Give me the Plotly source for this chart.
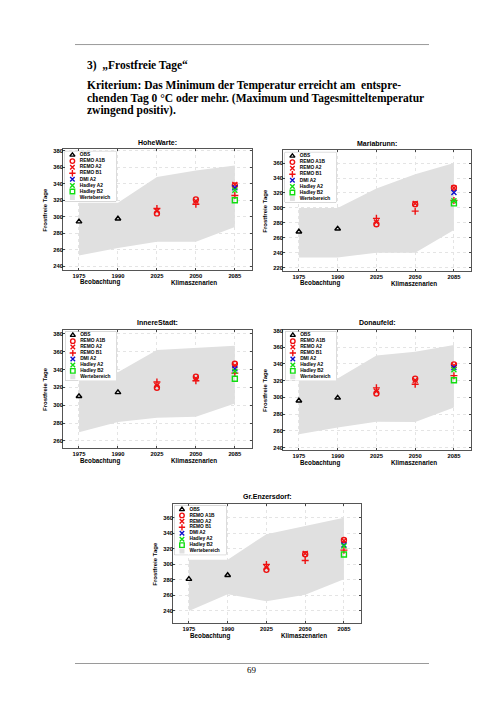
import plotly.graph_objects as go

# Seite 504x713; der Browser setzt 8px Rand um die Grafik
PAGE_W, PAGE_H = 504, 713
OFF = 8
W, H = PAGE_W - OFF, PAGE_H - OFF

# Daten: Frostfreie Tage je Station
stations = ["HoheWarte:", "Mariabrunn:", "InnereStadt:", "Donaufeld:", "Gr.Enzersdorf:"]
years = ["1975", "1990", "2025", "2050", "2085"]

obs = [[294, 297.5], [268, 272], [310, 314.4], [296, 299.5], [281, 286]]
band_upper = [
    [317, 317, 348, 356, 362],
    [300, 300, 326, 345, 360],
    [337, 337, 362, 364, 366.6],
    [322.5, 322.5, 350, 354.6, 362.5],
    [306, 306, 339, 349.6, 360],
]
band_lower = [
    [253, 262, 269.5, 269.5, 287.5],
    [233.5, 233.5, 240, 240, 270.5],
    [269.7, 281, 286, 287, 302],
    [256, 264, 271, 270.5, 288],
    [240, 261.6, 252.5, 261, 281],
]
# Szenarien 2025, 2050, 2085
remo_a1b = [[304, 321, 338], [278, 305, 327], [319.6, 332, 346.5], [304.6, 322.5, 339.5], [293, 313, 331.4]]
remo_a2 = [[307, 319, 339], [281, 306, 326.5], [322, 330, 344.6], [307.4, 320.5, 338], [296, 314, 330.5]]
remo_b1 = [[310, 315, 325.7], [286, 295.6, 310], [326, 327.5, 336], [311.4, 315.7, 326], [300, 305, 318.4]]
# nur 2085
dmi_a2 = [335, 320.6, 341, 335.6, 325]
hadley_a2 = [332, 309.5, 338, 333, 323.6]
hadley_b2 = [320, 306, 329.7, 320.5, 312.8]

y_ranges = [[235.5, 381.6], [215.6, 377], [251.8, 384.8], [237, 381], [224, 378]]
y_ticks = [
    list(range(240, 381, 20)),
    list(range(220, 361, 20)),
    list(range(260, 381, 20)),
    list(range(240, 381, 20)),
    list(range(240, 361, 20)),
]

legend_labels = ["OBS", "REMO A1B", "REMO A2", "REMO B1", "DMI A2", "Hadley A2", "Hadley B2", "Wertebereich"]

# Achsenboxen in Seitenpixeln (links, oben, rechts, unten)
boxes = [(63, 148, 252, 269), (283, 149, 471, 270), (63, 329, 252, 448),
         (283, 329, 471, 450), (173, 504, 361, 624)]
leg_boxes = [(65, 150, 116, 200), (285, 151, 336, 201), (65.5, 331, 116, 380),
             (285.5, 331, 336, 380), (174.5, 506, 226, 555)]

RED = "#ee1111"
GREEN = "#11dd11"
BLUE = "#1111cc"
BAND = "#e0e0e0"
styles = [
    dict(symbol="triangle-up-open", color="black"),
    dict(symbol="circle-open", color=RED),
    dict(symbol="x-thin", color=RED),
    dict(symbol="cross-thin", color=RED),
    dict(symbol="x-thin", color=BLUE),
    dict(symbol="x-thin", color=GREEN),
    dict(symbol="square-open", color=GREEN),
]

FONT = "Liberation Sans"
SERIF = "Liberation Serif"


def px_x(v):
    return (v - OFF) / W


def px_y(v):
    return 1 - (v - OFF) / H


def mk(st, size=5):
    return dict(symbol=st["symbol"], size=size, color=st["color"],
                line=dict(color=st["color"], width=1.4))


fig = go.Figure()
annotations = []
shapes = []
layout = {}

for i in range(5):
    n = i + 1
    xa = "x" if n == 1 else f"x{n}"
    ya = "y" if n == 1 else f"y{n}"
    l, t, r, b = boxes[i]
    layout[f"xaxis{n}"] = dict(
        domain=[px_x(l), px_x(r)], anchor=ya, range=[0.59, 5.44],
        tickvals=[1, 2, 3, 4, 5], ticktext=years,
        ticks="inside", ticklen=2, tickcolor="#444",
        showline=True, linecolor="#555", linewidth=0.8, mirror="ticks",
        showgrid=True, gridcolor="#e4e4e4", griddash="dot", gridwidth=0.5,
        zeroline=False, tickfont=dict(family=FONT, size=5.8, color="black", weight="bold"),
    )
    layout[f"yaxis{n}"] = dict(
        domain=[px_y(b), px_y(t)], anchor=xa, range=y_ranges[i],
        tickvals=y_ticks[i], ticks="inside", ticklen=2, tickcolor="#444",
        showline=True, linecolor="#555", linewidth=0.8, mirror="ticks",
        showgrid=True, gridcolor="#e4e4e4", griddash="dot", gridwidth=0.5,
        zeroline=False, ticklabelstandoff=-2,
        tickfont=dict(family=FONT, size=5.8, color="black", weight="bold"),
    )

    # Wertebereich
    fig.add_trace(go.Scatter(
        x=[1, 2, 3, 4, 5, 5, 4, 3, 2, 1],
        y=band_upper[i] + band_lower[i][::-1],
        fill="toself", fillcolor=BAND, line=dict(width=0), mode="lines",
        hoverinfo="skip", showlegend=False, xaxis=xa, yaxis=ya,
    ))
    series = [
        ([1, 2], obs[i]),
        ([3, 4, 5], remo_a1b[i]),
        ([3, 4, 5], remo_a2[i]),
        ([3, 4, 5], remo_b1[i]),
        ([5], [dmi_a2[i]]),
        ([5], [hadley_a2[i]]),
        ([5], [hadley_b2[i]]),
    ]
    for k, (xs, ys) in enumerate(series):
        fig.add_trace(go.Scatter(
            x=xs, y=ys, mode="markers", marker=mk(styles[k]),
            name=legend_labels[k], showlegend=False, xaxis=xa, yaxis=ya,
        ))

    # Titel, Achsenbeschriftungen
    annotations.append(dict(
        text=stations[i], xref=f"{xa} domain", yref=f"{ya} domain", x=0.5, y=1,
        yshift=7, xanchor="center", yanchor="middle", showarrow=False,
        font=dict(family=FONT, size=7, color="black", weight="bold"),
    ))
    annotations.append(dict(
        text="Frostfreie Tage", xref=f"{xa} domain", yref=f"{ya} domain", x=0, y=0.5,
        xshift=-18, xanchor="center", yanchor="middle", textangle=-90, showarrow=False,
        font=dict(family=FONT, size=6, color="black", weight="bold"),
    ))
    for lab, xv in [("Beobachtung", 1.54), ("Klimaszenarien", 3.96)]:
        annotations.append(dict(
            text=lab, xref=xa, yref=f"{ya} domain", x=xv, y=0, yshift=-12.5,
            xanchor="center", yanchor="middle", showarrow=False,
            font=dict(family=FONT, size=6.3, color="black", weight="bold"),
        ))

    # Legende als eigenes kleines Achsenpaar
    m = n + 5
    lxa, lya = f"x{m}", f"y{m}"
    ll, lt, lr, lb = leg_boxes[i]
    layout[f"xaxis{m}"] = dict(domain=[px_x(ll), px_x(lr)], anchor=lya, range=[0, 1], visible=False)
    layout[f"yaxis{m}"] = dict(domain=[px_y(lb), px_y(lt)], anchor=lxa, range=[-0.6, 7.6], visible=False)
    shapes.append(dict(
        type="rect", xref=f"{lxa} domain", yref=f"{lya} domain", x0=0, x1=1, y0=0, y1=1,
        fillcolor="white", line=dict(color="#8a8a8a", width=0.6), layer="below",
    ))
    ypos = list(range(7, -1, -1))
    for k in range(7):
        fig.add_trace(go.Scatter(
            x=[0.145], y=[ypos[k]], mode="markers", marker=mk(styles[k], 4.5),
            showlegend=False, hoverinfo="skip", xaxis=lxa, yaxis=lya,
        ))
    fig.add_trace(go.Scatter(
        x=[0.145], y=[ypos[7]], mode="markers",
        marker=dict(symbol="square", size=5, color=BAND),
        showlegend=False, hoverinfo="skip", xaxis=lxa, yaxis=lya,
    ))
    fig.add_trace(go.Scatter(
        x=[0.29] * 8, y=ypos, mode="text", text=legend_labels, textposition="middle right",
        textfont=dict(family=FONT, size=4.8, color="black", weight="bold"),
        showlegend=False, hoverinfo="skip", xaxis=lxa, yaxis=lya,
    ))

# Seitentext
page_lines = [
    ("3)\u00a0 \u201eFrostfreie Tage\u201c", 64),
    ("Kriterium: Das Minimum der Temperatur erreicht am\u00a0 entspre-", 84),
    ("chenden Tag 0 \u00b0C oder mehr. (Maximum und Tagesmitteltemperatur", 96.5),
    ("zwingend positiv).", 108.5),
]
for txt, yy in page_lines:
    annotations.append(dict(
        text=txt, xref="paper", yref="paper", x=px_x(84.5), y=px_y(yy),
        xanchor="left", yanchor="middle", showarrow=False,
        font=dict(family=SERIF, size=11.5, color="black", weight="bold"),
    ))
annotations.append(dict(
    text="69", xref="paper", yref="paper", x=px_x(252), y=px_y(671),
    xanchor="center", yanchor="middle", showarrow=False,
    font=dict(family=SERIF, size=9, color="black"),
))
for yy in [42.7, 664.3]:
    shapes.append(dict(
        type="line", xref="paper", yref="paper", x0=px_x(75), x1=px_x(429),
        y0=px_y(yy), y1=px_y(yy), line=dict(color="#9a9a9a", width=1),
    ))

fig.update_layout(
    width=W, height=H, margin=dict(l=0, r=0, t=0, b=0),
    paper_bgcolor="white", plot_bgcolor="white", showlegend=False,
    annotations=annotations, shapes=shapes, **layout,
)

fig.write_html("out.html")
